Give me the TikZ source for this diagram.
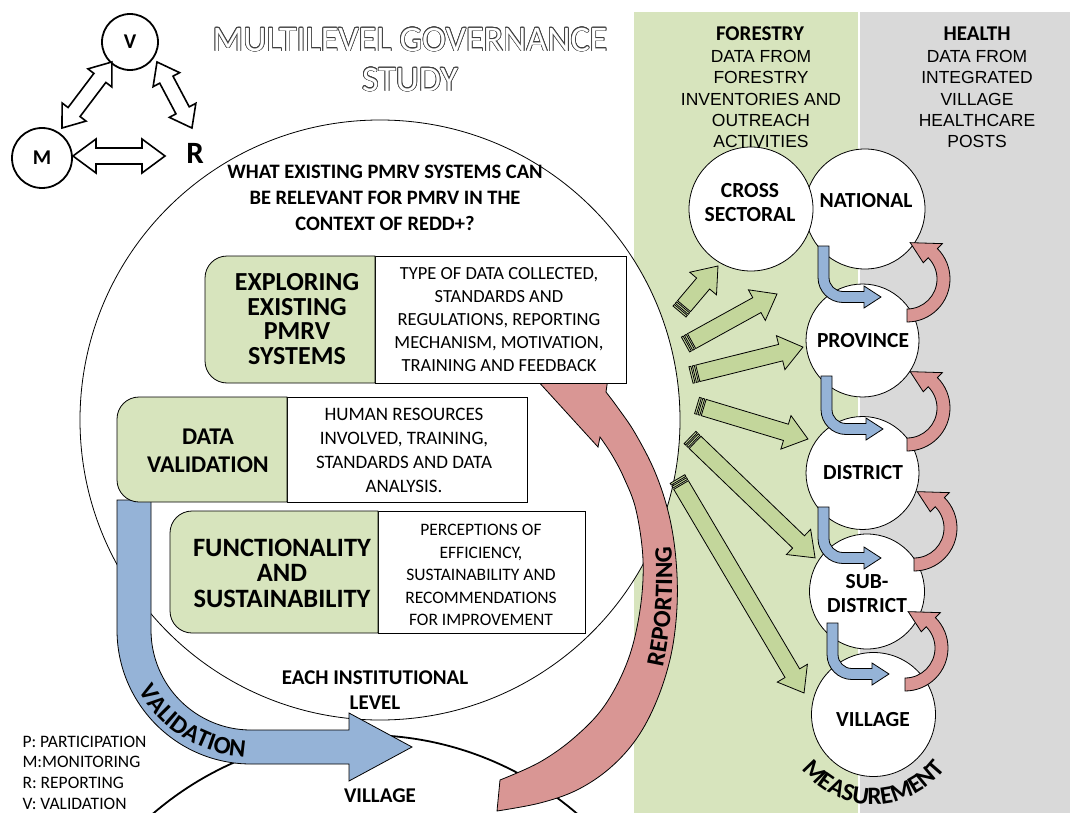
\documentclass[tikz,border=0pt]{standalone}
\usepackage{fontspec}
\setmainfont{Carlito}
\newfontfamily\arialf{Liberation Sans}
\usepackage{contour}
\usetikzlibrary{calc,decorations.text}
\definecolor{pgreen}{HTML}{D7E4BD}
\definecolor{pgray}{HTML}{D9D9D9}
\definecolor{agreen}{HTML}{C3D69B}
\definecolor{ablue}{HTML}{95B3D7}
\definecolor{ared}{HTML}{D99694}
\newcommand\fsz[2]{\fontsize{#1pt}{#2pt}\selectfont}
\contourlength{0.7pt}
\tikzset{
  lvl/.style={circle, draw, fill=white, line width=0.8, inner sep=0},
  lvltxt/.style={align=center, font=\fsz{21.5}{24}\bfseries},
  gbox/.style={fill=pgreen, draw, line width=0.8},
  wbox/.style={fill=white, draw, line width=0.8},
  bluearr/.style={fill=ablue, draw, line width=0.8},
  redarr/.style={fill=ared, draw, line width=0.8},
  greenarr/.style={fill=agreen, draw, line width=0.8},
  legarr/.style={fill=white, draw, line width=1.6},
}
\newcommand\pbox[5]{%
  \draw[wbox] (#3,#2) rectangle (#4,#5);
  \draw[gbox] (#3,#2) -- ({#1+22},#2) arc[start angle=270,end angle=180,radius=22]
    -- (#1,{#5-22}) arc[start angle=180,end angle=90,radius=22] -- (#3,#5) -- cycle;}
\newcommand\garrow[4]{%
  \begin{scope}[shift={(#1,#2)},rotate=#3]
  \draw[greenarr] (0,-8.5) rectangle (2,8.5);
  \draw[greenarr] (3.5,-8.5) rectangle (5.5,8.5);
  \draw[greenarr] (7,-8.5) -- ({#4-23},-8.5) -- ({#4-23},-17.5) -- (#4,0) -- ({#4-23},17.5) -- ({#4-23},8.5) -- (7,8.5) -- cycle;
  \end{scope}}
\newcommand\bluebend[4]{%
  \draw[bluearr] (#1,#2) -- (#1,{#3+5.5-25}) arc[start angle=180,end angle=90,radius=25]
   -- ({#4-17},{#3+5.5}) -- ({#4-17},{#3+11}) -- (#4,#3) -- ({#4-17},{#3-11}) -- ({#4-17},{#3-5.5})
   -- ({#1+25},{#3-5.5}) arc[start angle=90,end angle=180,radius=14] -- ({#1+11},#2) -- cycle;}
\newcommand\redloop[2]{%
  \begin{scope}[shift={(#1,#2)}]
  \draw[redarr] (90:30) arc[start angle=90,end angle=-45,radius=30] -- (-45:23) -- (-85:36.5)
    -- (-45:50) -- (-45:43) arc[start angle=-45,end angle=90,radius=43] -- cycle;
  \end{scope}}
\newcommand\darrow[7]{% x y angle length shafthalf headhalf headlen
  \begin{scope}[shift={(#1,#2)},rotate=#3]
  \draw[legarr] (0,0) -- (#7,#6) -- (#7,#5) -- ({#4-#7},#5) -- ({#4-#7},#6) -- (#4,0)
    -- ({#4-#7},-#6) -- ({#4-#7},-#5) -- (#7,-#5) -- (#7,-#6) -- cycle;
  \end{scope}}
\begin{document}
\begin{tikzpicture}[x=1pt,y=-1pt]
\useasboundingbox (0,0) rectangle (1070,813);
\clip (0,0) rectangle (1070,813);
\fill[white] (0,0) rectangle (1070,813);
% panels
\fill[pgreen] (634,12) rectangle (857.5,813);
\fill[pgray] (860,12) rectangle (1070,813);
\node[font=\fsz{21}{22}\bfseries] (forh) at (760,34) {FORESTRY};
\node[font=\arialf\fsz{17.5}{21.3}, align=center] (fort) at (761,99) {DATA FROM\\FORESTRY\\INVENTORIES AND\\OUTREACH\\ACTIVITIES};
\node[font=\fsz{21}{22}\bfseries] (heah) at (977,34) {HEALTH};
\node[font=\arialf\fsz{17.5}{21.3}, align=center] (heat) at (977,99) {DATA FROM\\INTEGRATED\\VILLAGE\\HEALTHCARE\\POSTS};
% big circles
\node[circle, draw, fill=white, line width=0.8, minimum size=600] (big) at (380,420) {};
\node[circle, draw, fill=white, line width=1.8, minimum size=650] (vilc) at (365,1060) {};
% validation arrow
\draw[bluearr] (117,500) -- (117,630) arc[start angle=180,end angle=90,radius=134] -- (349,764)
  -- (349,781) -- (412,747) -- (349,713) -- (349,730) -- (251,730)
  arc[start angle=90,end angle=180,radius=100] -- (151,500) -- cycle;
\path[decorate, decoration={text along path, text align=center,
  text={|\fsz{25}{25}\bfseries|VALIDATION}}] (127.4,662.1) arc[start angle=165,end angle=79,radius=128];
% reporting arrow
\draw[redarr] plot[smooth, tension=0.6] coordinates {(497,811) (540,803) (577,790) (610,768) (637,738) (657,700) (671,655) (677,607) (676,560) (669,515) (655,472) (635,433) (618,408) (606,392)}
  -- (608,378) -- (505,345) -- (598,447)
  -- plot[smooth, tension=0.6] coordinates {(600,437) (612,455) (624,478) (636,510) (643,560) (640,610) (628,660) (605,705) (575,737) (540,762) (500,780)} -- cycle;
\path[decorate, decoration={text along path, text align=center,
  text={|\fsz{25}{25}\bfseries|REPORTING}}] (646,722) .. controls (672,660) and (680,570) .. (664,490);
% boxes
\pbox{205}{256}{375}{626}{383}
\pbox{117}{397}{287}{527}{502}
\pbox{170}{511}{378}{585}{633}
\node[font=\fsz{20.5}{26}\bfseries, align=center] (q) at (385,198) {WHAT EXISTING PMRV SYSTEMS CAN\\BE RELEVANT FOR PMRV IN THE\\CONTEXT OF REDD+?};
\node[font=\fsz{26}{24.7}\bfseries, align=center] (b1l) at (297,319) {EXPLORING\\EXISTING\\PMRV\\SYSTEMS};
\node[font=\fsz{18.5}{23}, align=center] (b1r) at (499,320) {TYPE OF DATA COLLECTED,\\STANDARDS AND\\REGULATIONS, REPORTING\\MECHANISM, MOTIVATION,\\TRAINING AND FEEDBACK};
\node[font=\fsz{24}{28}\bfseries, align=center] (b2l) at (208,451) {DATA\\VALIDATION};
\node[font=\fsz{19}{24}, align=center] (b2r) at (404,450) {HUMAN RESOURCES\\INVOLVED, TRAINING,\\STANDARDS AND DATA\\ANALYSIS.};
\node[font=\fsz{26.5}{25.5}\bfseries, align=center] (b3l) at (282,573) {FUNCTIONALITY\\AND\\SUSTAINABILITY};
\node[font=\fsz{17.5}{22.5}, align=center] (b3r) at (481,575) {PERCEPTIONS OF\\EFFICIENCY,\\SUSTAINABILITY AND\\RECOMMENDATIONS\\FOR IMPROVEMENT};
\node[font=\fsz{21}{25}\bfseries, align=center] (each) at (375,690) {EACH INSTITUTIONAL\\LEVEL};
\node[font=\fsz{21}{22}\bfseries] (vtxt) at (380,796) {VILLAGE};
% green arrows
\garrow{679.5}{311.5}{49.8}{59.6}
\garrow{685.5}{344.5}{28.9}{104.5}
\garrow{691}{375}{14.0}{115.4}
\garrow{697}{405.5}{-16.8}{115.9}
\garrow{690}{437.5}{-43.9}{173.6}
\garrow{677.5}{479}{-59.4}{248.6}
% level circles
\node[lvl, minimum size=120] (nat) at (865,209) {};
\node[lvltxt] (natt) at (866,201) {NATIONAL};
\node[lvl, minimum size=124] (cross) at (751,209) {};
\node[lvltxt] (crosst) at (750,203) {CROSS\\SECTORAL};
\node[lvl, minimum size=113] (prov) at (862.5,340.5) {};
\node[lvltxt] (provt) at (863,341) {PROVINCE};
\node[lvl, minimum size=113] (dist) at (862.5,473) {};
\node[lvltxt] (distt) at (863,473) {DISTRICT};
\node[lvl, minimum size=115] (sub) at (867,591.5) {};
\node[lvltxt] (subt) at (867,594) {SUB-\\DISTRICT};
\node[lvl, minimum size=124] (vill) at (873.5,714.5) {};
\node[lvltxt] (villt) at (873,720) {VILLAGE};
% small blue arrows
\bluebend{818}{246}{297}{881}
\bluebend{821}{376}{429}{883}
\bluebend{818}{507}{558}{881}
\bluebend{827}{623}{674}{889}
% small red arrows
\redloop{907}{279}
\redloop{907}{408}
\redloop{914}{528}
\redloop{905}{648}
\path[decorate, decoration={text along path, text align=center,
  text={|\fsz{25}{25}\bfseries|MEASUREMENT}}] (788.93,745.28) arc[start angle=160,end angle=20,radius=90];
% legend
\node[circle, draw, line width=1.8, fill=white, minimum size=56, font=\fsz{21}{22}\bfseries] (V) at (130,42) {V};
\node[circle, draw, line width=1.8, fill=white, minimum size=60, font=\fsz{21}{22}\bfseries] (M) at (42,158) {M};
\node[font=\fsz{31}{32}\bfseries] (R) at (195,153) {R};
\darrow{73}{156}{0}{92}{8}{17}{23}
\darrow{62}{128}{52.9}{82.8}{7.5}{15}{20}
\darrow{157}{62}{-62.1}{74.7}{7.5}{15}{20}
\node[font=\fsz{17.5}{18}, anchor=west] (lp) at (19,742) {P: PARTICIPATION};
\node[font=\fsz{17.5}{18}, anchor=west] (lm) at (19,762) {M:MONITORING};
\node[font=\fsz{17.5}{18}, anchor=west] (lr) at (19,783) {R: REPORTING};
\node[font=\fsz{17.5}{18}, anchor=west] (lv) at (19,804) {V: VALIDATION};
% title
\node[font=\fsz{36}{38}] (t1) at (410,40) {\contour{black!75}{\textcolor{white}{MULTILEVEL GOVERNANCE}}};
\node[font=\fsz{36}{38}] (t2) at (410,80) {\contour{black!75}{\textcolor{white}{STUDY}}};
\end{tikzpicture}
\end{document}
